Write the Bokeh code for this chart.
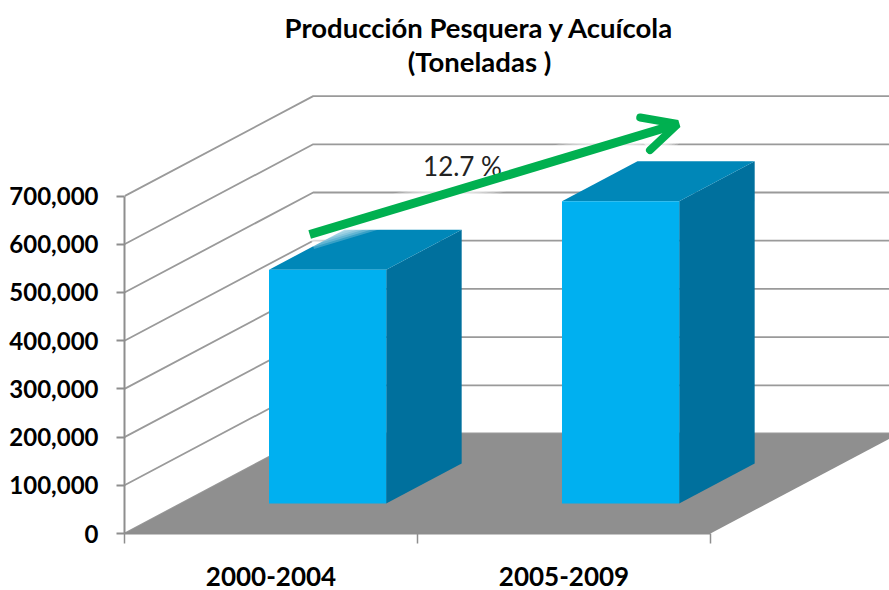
from bokeh.plotting import figure
from bokeh.models import Range1d, LinearAxis, FixedTicker, NumeralTickFormatter, Arrow, OpenHead, Label
from bokeh.embed import file_html
from bokeh.resources import INLINE

# data
categories = ["2000-2004", "2005-2009"]
produccion = [485000, 627000]
value_ticks = [0, 100000, 200000, 300000, 400000, 500000, 600000, 700000]
title_lines = ["Producción Pesquera y Acuícola", "(Toneladas )"]
growth_label = "12.7 %"

# pseudo-3D projection, in data units
DEPTH_X = 0.644
DEPTH_Y = 207500
BAR_LO, BAR_HI = 0.3, 0.7


def proj(cat, depth, val):
    return cat + depth * DEPTH_X, val + depth * DEPTH_Y


def poly(points):
    pts = [proj(*pt) for pt in points]
    return [a for a, _ in pts], [b for _, b in pts]


n = len(categories)
p = figure(width=889, height=590, output_backend="svg", toolbar_location=None,
           x_range=Range1d(0, 2.611), y_range=Range1d(0, 1105809),
           x_axis_type=None, y_axis_type=None,
           min_border_left=124, min_border_right=0, min_border_top=0, min_border_bottom=57,
           background_fill_color="white", border_fill_color="white")
p.outline_line_color = None
p.grid.visible = False

GRID = "#9a9a9a"
AX = "#8e8e8e"
FS = "Lato"
GREEN = "#00B050"

# walls
xs, ys = [], []
for v in value_ticks:
    pts = [proj(0, 0, v), proj(0, 1, v), proj(n, 1, v)]
    xs.append([a for a, _ in pts])
    ys.append([b for _, b in pts])
p.multi_line(xs, ys, line_color=GRID, line_width=1.8)

# floor
fx, fy = poly([(0, 0, 0), (n, 0, 0), (n, 1, 0), (0, 1, 0)])
p.patch(fx, fy, fill_color="#8f8f8f", line_color=None)

# bars
for i, v in enumerate(produccion):
    l, r = i + BAR_LO, i + BAR_HI
    sx, sy = poly([(r, BAR_LO, 0), (r, BAR_HI, 0), (r, BAR_HI, v), (r, BAR_LO, v)])
    p.patch(sx, sy, fill_color="#00709D", line_color=None)
    tx, ty = poly([(l, BAR_LO, v), (r, BAR_LO, v), (r, BAR_HI, v), (l, BAR_HI, v)])
    p.patch(tx, ty, fill_color="#0087B8", line_color=None)
    cx, cy = poly([(l, BAR_LO, 0), (r, BAR_LO, 0), (r, BAR_LO, v), (l, BAR_LO, v)])
    p.patch(cx, cy, fill_color="#00B0F0", line_color=None)

# trend arrow with its soft glow
ARROW_START = (0.632, 620300)
ARROW_END = (1.888, 849500)
for w in (30, 26, 22, 18, 14):
    p.add_layout(Arrow(x_start=ARROW_START[0], y_start=ARROW_START[1], x_end=ARROW_END[0], y_end=ARROW_END[1],
                       line_color="white", line_width=w, line_alpha=0.22,
                       end=OpenHead(size=34, line_color="white", line_width=w, line_alpha=0.22)))

p.add_layout(Label(x=338, y=368, x_units="screen", y_units="screen", text=growth_label,
                   text_font=FS, text_font_size="26px", text_color="#222222",
                   text_align="center", text_baseline="middle"))

p.add_layout(Arrow(x_start=ARROW_START[0], y_start=ARROW_START[1], x_end=ARROW_END[0], y_end=ARROW_END[1],
                   line_color=GREEN, line_width=9,
                   end=OpenHead(size=34, line_color=GREEN, line_width=8, line_cap="round")))

# axes
yax = LinearAxis(ticker=FixedTicker(ticks=value_ticks), formatter=NumeralTickFormatter(format="0,0"),
                 bounds=(0, 700000), axis_line_color=AX, axis_line_width=2,
                 major_tick_line_color=AX, major_tick_line_width=2, major_tick_out=8, major_tick_in=0,
                 minor_tick_line_color=None, major_label_standoff=18,
                 major_label_text_font=FS, major_label_text_font_style="bold",
                 major_label_text_font_size="24px", major_label_text_color="black")
p.add_layout(yax, "left")

centres = [i + 0.5 for i in range(n)]
xax = LinearAxis(ticker=FixedTicker(ticks=centres, minor_ticks=list(range(n + 1))),
                 major_label_overrides={c: t for c, t in zip(centres, categories)},
                 bounds=(0, n), axis_line_color=AX, axis_line_width=2,
                 major_tick_line_color=None, major_tick_out=0, major_tick_in=0,
                 minor_tick_line_color=AX, minor_tick_line_width=1.5, minor_tick_out=10, minor_tick_in=0,
                 major_label_standoff=23,
                 major_label_text_font=FS, major_label_text_font_style="bold",
                 major_label_text_font_size="26px", major_label_text_color="black")
p.add_layout(xax, "below")

# title
for line, dist_above_axis in zip(title_lines, (506, 472)):
    p.add_layout(Label(x=355, y=dist_above_axis, x_units="screen", y_units="screen", text=line,
                       text_font=FS, text_font_style="bold", text_font_size="27.5px", text_color="black",
                       text_align="center", text_baseline="middle"))

open("out.html", "w").write(file_html(p, INLINE))
